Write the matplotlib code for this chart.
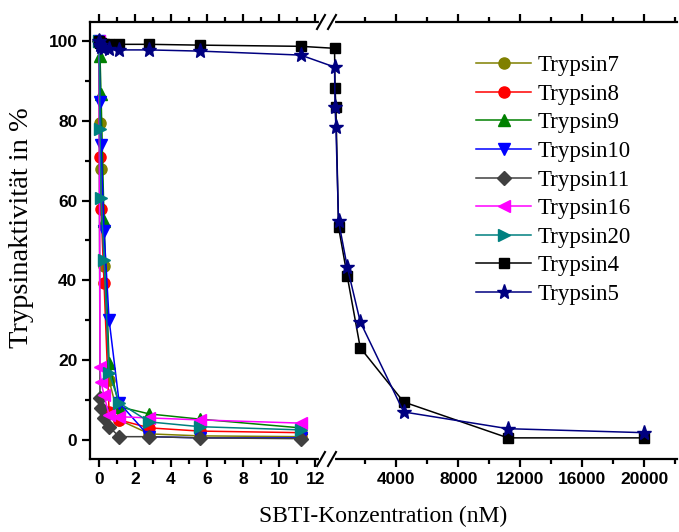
import numpy as np
import matplotlib
matplotlib.use("Agg")
import matplotlib.pyplot as plt
from matplotlib.ticker import FixedLocator, FuncFormatter

# SBTI concentrations (nM)
conc_low = [0, 0.056, 0.112, 0.28, 0.56, 1.12, 2.8, 5.6, 11.2]
conc_high = [22.4, 56, 112, 280, 840, 1680, 4480, 11200, 20000]

# residual trypsin activity (%)
trypsin7 = [100, 79.5, 68, 43.5, 15, 5, 1.5, 1, 0.8]
trypsin8 = [100, 71, 58, 39.3, 7, 5, 3, 2.2, 1.8]
trypsin9 = [100, 96.2, 86.7, 54.9, 19.3, 8.3, 6.5, 5.2, 3]
trypsin10 = [100, 84.7, 74, 52.3, 30.1, 9.3, 0.8, 0.5, 0.5]
trypsin11 = [100, 10.5, 8, 5.5, 3.3, 0.8, 0.8, 0.5, 0.3]
trypsin16 = [100, 18.3, 14.5, 11.2, 6.2, 5.8, 5.5, 5, 4.2]
trypsin20 = [100, 78, 60.6, 45, 16.8, 9.3, 4.5, 3.3, 2.5]
trypsin4 = [100, 99.5, 99.5, 99.3, 99.2, 99.2, 99.2, 99, 98.7,
            98.2, 88.2, 83.4, 53.4, 41.1, 23.1, 9.5, 0.5, 0.5]
trypsin5 = [100, 99, 98.5, 98.2, 98, 97.8, 97.8, 97.5, 96.5,
            93.5, 83.5, 78.5, 54.9, 43.4, 29.6, 7.0, 2.8, 1.8]

# broken x axis: 0-12 nM linear, then 0-22000 nM linear
BRK = 12.6
LOW_K, LOW_0 = 18.0, 99.3
HIGH_K, HIGH_0 = 0.0155, 334.3
U_BRK_LO = LOW_0 + LOW_K * BRK
U_BRK_HI = HIGH_0 + HIGH_K * BRK


def fwd(x):
    x = np.asarray(x, dtype=float)
    return np.where(x <= BRK, LOW_0 + LOW_K * x, HIGH_0 + HIGH_K * x)


def inv(u):
    u = np.asarray(u, dtype=float)
    return np.where(u <= U_BRK_LO, (u - LOW_0) / LOW_K,
                    np.where(u < U_BRK_HI, BRK, (u - HIGH_0) / HIGH_K))


W, H = 679, 532
fig = plt.figure(figsize=(W / 100, H / 100), dpi=100)
ax = fig.add_axes([90 / W, (H - 459) / H, (677 - 90) / W, (459 - 22) / H])
ax.set_xscale("function", functions=(fwd, inv))

x_all = conc_low + conc_high
styles = [
    ("Trypsin7", conc_low, trypsin7, "#808000", "o", 8),
    ("Trypsin8", conc_low, trypsin8, "#ff0000", "o", 8),
    ("Trypsin9", conc_low, trypsin9, "#008000", "^", 8.5),
    ("Trypsin10", conc_low, trypsin10, "#0000ff", "v", 8.5),
    ("Trypsin11", conc_low, trypsin11, "#404040", "D", 7),
    ("Trypsin16", conc_low, trypsin16, "#ff00ff", "<", 8.5),
    ("Trypsin20", conc_low, trypsin20, "#008080", ">", 8.5),
    ("Trypsin4", x_all, trypsin4, "#000000", "s", 7),
    ("Trypsin5", x_all, trypsin5, "#000080", "*", 11),
]
for name, xs, ys, col, mk, ms in styles:
    ax.plot(xs, ys, color=col, marker=mk, markersize=ms, lw=1.1,
            markeredgecolor=col, label=name, clip_on=False)

ax.set_xlim(-0.5, 22100)
ax.set_ylim(-4.8, 104.8)

ax.xaxis.set_major_locator(FixedLocator([0, 2, 4, 6, 8, 10, 12,
                                         4000, 8000, 12000, 16000, 20000]))
ax.xaxis.set_minor_locator(FixedLocator([1, 3, 5, 7, 9, 11,
                                         2000, 6000, 10000, 14000, 18000, 22000]))
ax.xaxis.set_major_formatter(FuncFormatter(lambda v, p: "%g" % v))
ax.yaxis.set_major_locator(FixedLocator([0, 20, 40, 60, 80, 100]))
ax.yaxis.set_minor_locator(FixedLocator([10, 30, 50, 70, 90]))

for s in ["left", "bottom", "top"]:
    ax.spines[s].set_linewidth(1.6)
ax.spines["right"].set_visible(False)

ax.tick_params(which="major", direction="out", length=6, width=1.6,
               labelsize=12.5, pad=3)
ax.tick_params(which="minor", direction="out", length=3.5, width=1.6)
ax.tick_params(axis="x", which="both", top=True, labeltop=False)
for lab in ax.get_xticklabels() + ax.get_yticklabels():
    lab.set_fontweight("bold")
    lab.set_family(["Liberation Sans", "DejaVu Sans"])

serif = ["Liberation Serif", "DejaVu Serif"]
ax.set_xlabel("SBTI-Konzentration (nM)", family=serif, fontsize=17, labelpad=14)
ax.set_ylabel("Trypsinaktivität in %", family=serif, fontsize=20.5)
ax.yaxis.set_label_coords(-0.095, 0.53)

leg = ax.legend(loc="upper left", bbox_to_anchor=(467 / W, (H - 46) / H),
                bbox_transform=fig.transFigure, frameon=False,
                prop={"family": serif, "size": 16.5}, handlelength=2.4,
                handletextpad=0.3, labelspacing=0.33, borderaxespad=0)

# axis break marks on top and bottom spine
tr = fig.transFigure
for yb in (459, 22):
    yf = (H - yb) / H
    ax.plot([(321) / W, (333) / W], [yf, yf], color="white", lw=3,
            transform=tr, clip_on=False, zorder=5)
    for xc in (321, 332):
        ax.plot([(xc - 4) / W, (xc + 4) / W], [yf - 7 / H, yf + 7 / H],
                color="black", lw=1.5, transform=tr, clip_on=False, zorder=6)

fig.savefig("out.png", dpi=100)
